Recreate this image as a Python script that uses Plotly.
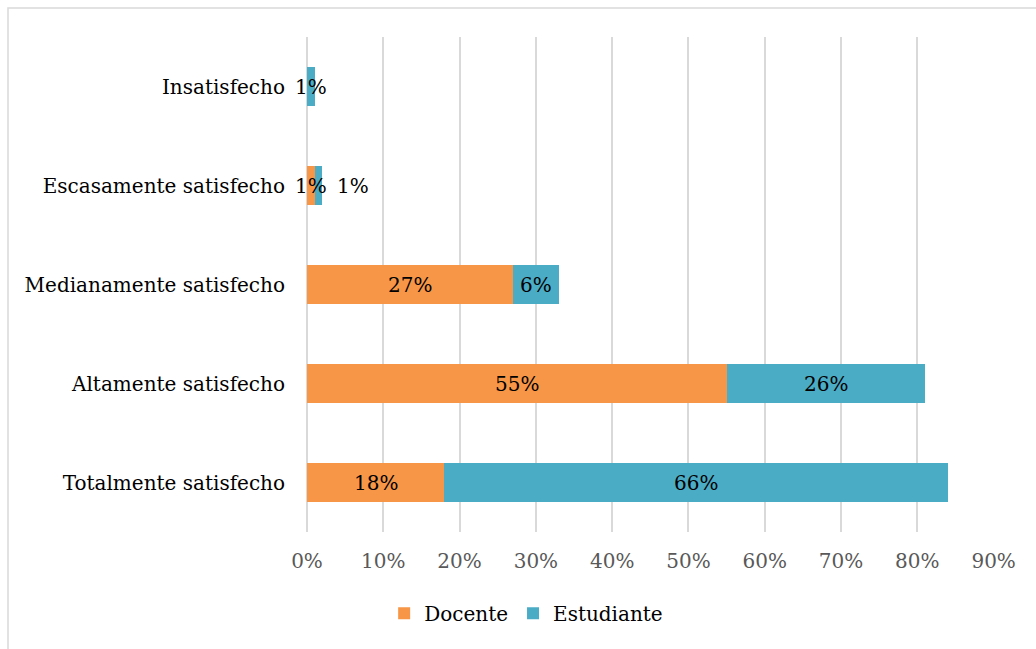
import plotly.graph_objects as go

categories = ["Totalmente satisfecho", "Altamente satisfecho", "Medianamente satisfecho",
              "Escasamente satisfecho", "Insatisfecho"]
docente = [18, 55, 27, 1, 0]
estudiante = [66, 26, 6, 1, 1]
series_names = ["Docente", "Estudiante"]
colors = ["#F79646", "#4BACC6"]
tick_vals = [0, 10, 20, 30, 40, 50, 60, 70, 80, 90]
tick_text = [f"{v}%" for v in tick_vals]

FONT = "DejaVu Serif"
FS = 20

fig = go.Figure()
for name, vals, col in zip(series_names, [docente, estudiante], colors):
    fig.add_trace(go.Bar(y=categories, x=vals, name=name, orientation="h",
                         marker=dict(color=col, line=dict(width=0)),
                         textposition="none"))

# data labels centred on each segment
for i, cat in enumerate(categories):
    base = 0
    for s, vals in enumerate([docente, estudiante]):
        v = vals[i]
        if v > 0:
            shift = 0
            if cat == "Escasamente satisfecho" and s == 1:
                shift = 35
            fig.add_annotation(x=base + v / 2, y=cat, text=f"{v}%", showarrow=False,
                               xshift=shift, font=dict(family=FONT, size=FS, color="#000000"))
        base += v

L, R, T, B = 307, 42, 37, 117
W, H = 1036, 649
pw, ph = W - L - R, H - T - B

fig.add_shape(type="rect", xref="paper", yref="paper",
              x0=(8 - L) / pw, x1=(W + 20 - L) / pw,
              y0=-(H + 20 - T - ph) / ph, y1=(ph + T - 8) / ph,
              line=dict(color="#D9D9D9", width=1.5), fillcolor="rgba(0,0,0,0)", layer="below")

fig.update_layout(
    width=W, height=H,
    margin=dict(l=L, r=R, t=T, b=B),
    barmode="stack", bargap=0.6,
    plot_bgcolor="white", paper_bgcolor="white",
    font=dict(family=FONT, size=FS, color="#000000"),
    xaxis=dict(range=[0, 90.05], tickvals=tick_vals, ticktext=tick_text,
               showgrid=True, gridcolor="#D9D9D9", gridwidth=1.5,
               zeroline=True, zerolinecolor="#D9D9D9", zerolinewidth=1.5,
               showline=False, ticks="",
               tickfont=dict(family=FONT, size=FS, color="#595959"),
               ticklabelstandoff=15),
    yaxis=dict(showgrid=False, zeroline=False, showline=False, ticks="",
               tickfont=dict(family=FONT, size=FS, color="#000000"),
               ticklabelstandoff=21),
    legend=dict(orientation="h", x=0.319, xanchor="center", y=-0.164, yanchor="middle",
                traceorder="normal",
                font=dict(family=FONT, size=FS, color="#000000"), itemwidth=30),
    showlegend=True,
)

fig.write_html("out.html")
